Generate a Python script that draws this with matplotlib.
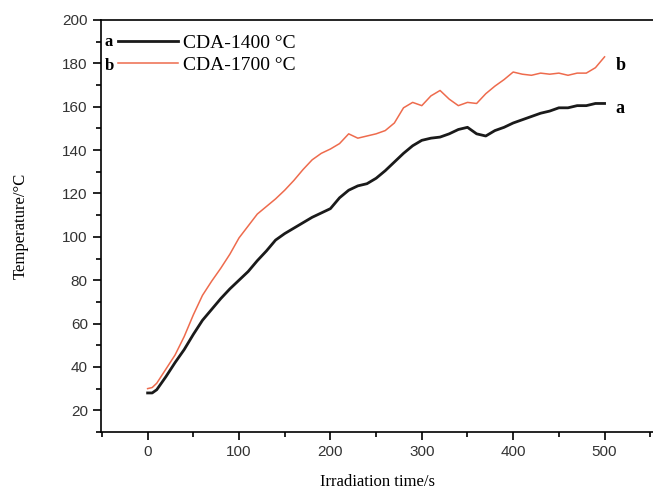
import matplotlib
matplotlib.use("Agg")
import matplotlib.pyplot as plt
from matplotlib.ticker import MultipleLocator

# время облучения, с
time_s = [0, 5, 10, 20, 30, 40, 50, 60, 70, 80, 90, 100, 110, 120, 130, 140, 150,
          160, 170, 180, 190, 200, 210, 220, 230, 240, 250, 260, 270, 280, 290,
          300, 310, 320, 330, 340, 350, 360, 370, 380, 390, 400, 410, 420, 430,
          440, 450, 460, 470, 480, 490, 500]

# a: CDA-1400 °C
temp_1400 = [28, 28, 29.5, 35.5, 42, 48, 55, 61.5, 66.5, 71.5, 76, 80, 84, 89,
             93.5, 98.5, 101.5, 104, 106.5, 109, 111, 113, 118, 121.5, 123.5,
             124.5, 127, 130.5, 134.5, 138.5, 142, 144.5, 145.5, 146, 147.5,
             149.5, 150.5, 147.5, 146.5, 149, 150.5, 152.5, 154, 155.5, 157,
             158, 159.5, 159.5, 160.5, 160.5, 161.5, 161.5]

# b: CDA-1700 °C
temp_1700 = [30, 30.5, 32.5, 39, 45.5, 54, 64, 73, 79.5, 85.5, 92, 99.5, 105,
             110.5, 114, 117.5, 121.5, 126, 131, 135.5, 138.5, 140.5, 143, 147.5,
             145.5, 146.5, 147.5, 149, 152.5, 159.5, 162, 160.5, 165, 167.5,
             163.5, 160.5, 162, 161.5, 166, 169.5, 172.5, 176, 175, 174.5, 175.5,
             175, 175.5, 174.5, 175.5, 175.5, 178, 183]

serif = "Liberation Serif"
red = "#ee6b4d"

plt.rcParams["font.family"] = "Liberation Sans"

fig = plt.figure(figsize=(6.53, 4.9), dpi=100)
ax = fig.add_axes([0.1547, 0.1184, 0.8453, 0.8408])

ax.plot(time_s, temp_1400, color="#1a1a1a", lw=2.0, label="CDA-1400 °C")
ax.plot(time_s, temp_1700, color=red, lw=1.1, label="CDA-1700 °C")

ax.set_xlim(-51, 553)
ax.set_ylim(10, 200)

ax.xaxis.set_major_locator(MultipleLocator(100))
ax.xaxis.set_minor_locator(MultipleLocator(50))
ax.yaxis.set_major_locator(MultipleLocator(20))
ax.yaxis.set_minor_locator(MultipleLocator(10))
ax.tick_params(which="both", direction="out", width=1.2)
ax.tick_params(which="major", length=6, labelsize=11, labelcolor="#333333")
ax.tick_params(which="minor", length=3.5)

ax.spines["right"].set_visible(False)
for s in ["left", "bottom", "top"]:
    ax.spines[s].set_linewidth(1.2)

ax.set_xlabel("Irradiation time/s", fontfamily=serif, fontsize=12, labelpad=11)
ax.set_ylabel("Temperature/°C", fontfamily=serif, fontsize=12, labelpad=24)

leg = ax.legend(loc="upper left", bbox_to_anchor=(0.031, 0.965), frameon=False,
                prop={"family": serif, "size": 14}, handlelength=3.1,
                handletextpad=0.25, labelspacing=0.2, borderpad=0,
                borderaxespad=0)

# буквы кривых
ax.text(-47, 189.8, "a", fontfamily=serif, fontsize=12, fontweight="bold", va="center")
ax.text(-47, 178.7, "b", fontfamily=serif, fontsize=12, fontweight="bold", va="center")
ax.text(512, 179, "b", fontfamily=serif, fontsize=13, fontweight="bold", va="center")
ax.text(512, 159, "a", fontfamily=serif, fontsize=13, fontweight="bold", va="center")

fig.savefig("out.png", dpi=100)
